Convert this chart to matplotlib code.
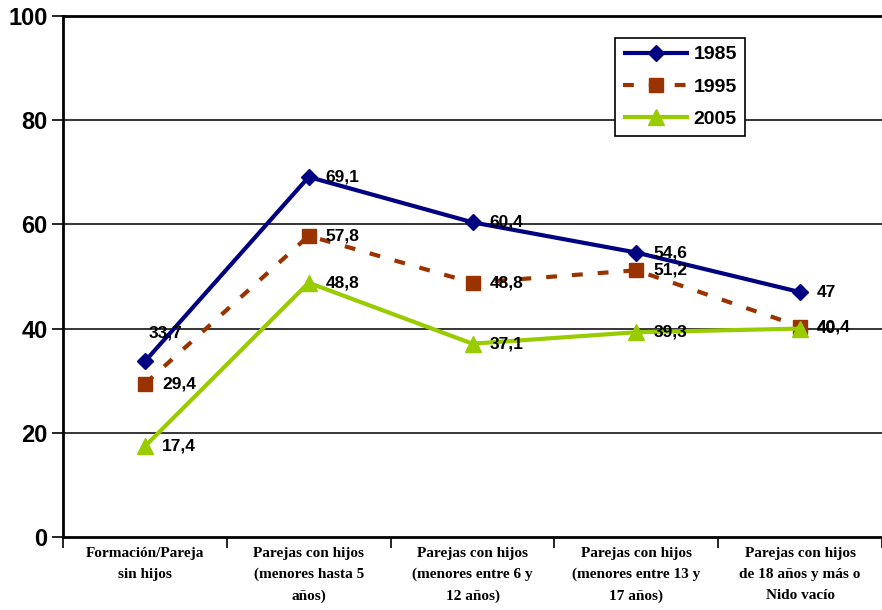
import numpy as np
import matplotlib
matplotlib.use('Agg')
import matplotlib.pyplot as plt
from matplotlib.ticker import FixedLocator, NullFormatter


# ─── Data ─────────────────────────────────────────────────────────────────────

CATEGORIES = [
    'Formación/Pareja\nsin hijos',
    'Parejas con hijos\n(menores hasta 5\naños)',
    'Parejas con hijos\n(menores entre 6 y\n12 años)',
    'Parejas con hijos\n(menores entre 13 y\n17 años)',
    'Parejas con hijos\nde 18 años y más o\nNido vacío',
]

SERIES_NAMES = ['1985', '1995', '2005']
VALUES_1985 = [33.7, 69.1, 60.4, 54.6, 47]
VALUES_1995 = [29.4, 57.8, 48.8, 51.2, 40.4]
VALUES_2005 = [17.4, 48.8, 37.1, 39.3, 40]

Y_TICKS = [0, 20, 40, 60, 80, 100]


# ─── Style ────────────────────────────────────────────────────────────────────

STYLES = {
    '1985': dict(color='#000080', marker='D', markersize=8, linestyle='-'),
    '1995': dict(color='#993300', marker='s', markersize=10, linestyle=(0, (2.6, 3.6))),
    '2005': dict(color='#99CC00', marker='^', markersize=12, linestyle='-'),
}


def fmt(v):
    return f'{v:g}'.replace('.', ',')


def main():
    fig = plt.figure(figsize=(8.82, 6.10), dpi=100, facecolor='white')
    ax = fig.add_axes([63 / 882, 1 - 537 / 610, 1 - 63 / 882, (537 - 16) / 610])

    x = np.arange(len(CATEGORIES))
    series = dict(zip(SERIES_NAMES, [VALUES_1985, VALUES_1995, VALUES_2005]))

    for name, vals in series.items():
        st = STYLES[name]
        ax.plot(x, vals, linestyle=st['linestyle'], color=st['color'], linewidth=3,
                marker=st['marker'], markersize=st['markersize'],
                markerfacecolor=st['color'], markeredgecolor=st['color'],
                label=name, zorder=3, solid_capstyle='butt', dash_capstyle='butt')

        # value labels, right of each point (first 1985 label sits above)
        for i, v in enumerate(vals):
            off = (4, 28) if (name == '1985' and i == 0) else (17, 0)
            ax.annotate(fmt(v), (x[i], v), xytext=off, textcoords='offset pixels',
                        ha='left', va='center', fontsize=12.5, fontweight='bold',
                        family='Liberation Sans', color='black', zorder=4)

    ax.set_xlim(-0.5, len(CATEGORIES) - 0.5)
    ax.set_ylim(0, 100)

    # grid
    for y in Y_TICKS[1:]:
        ax.axhline(y, color='black', linewidth=2 if y == 100 else 1.1, zorder=1, clip_on=False)

    ax.spines['top'].set_visible(False)
    ax.spines['right'].set_visible(False)
    ax.spines['left'].set_linewidth(2)
    ax.spines['bottom'].set_linewidth(2)

    ax.set_yticks(Y_TICKS)
    ax.set_yticklabels([str(t) for t in Y_TICKS], fontsize=17, fontweight='bold',
                       family='Liberation Sans')
    ax.tick_params(axis='y', length=8, width=1.2, pad=3)

    ax.set_xticks(x)
    ax.set_xticklabels(CATEGORIES, fontsize=11, fontweight='bold',
                       family='Liberation Serif', linespacing=1.8)
    ax.tick_params(axis='x', which='major', length=0, pad=7)
    ax.xaxis.set_minor_locator(FixedLocator(np.arange(-0.5, len(CATEGORIES), 1.0)))
    ax.xaxis.set_minor_formatter(NullFormatter())
    ax.tick_params(axis='x', which='minor', length=8, width=1.2)

    leg = ax.legend(loc='upper left', bbox_to_anchor=((615 - 63) / 819, (537 - 38) / 521),
                    borderaxespad=0, frameon=True, fancybox=False, edgecolor='black',
                    framealpha=1, handlelength=3.4, handletextpad=0.25, borderpad=0.4,
                    labelspacing=0.75,
                    prop={'family': 'Liberation Sans', 'weight': 'bold', 'size': 14})
    leg.get_frame().set_linewidth(1.2)
    leg.set_zorder(5)

    fig.savefig('out.png', dpi=100, facecolor='white')


if __name__ == '__main__':
    main()
